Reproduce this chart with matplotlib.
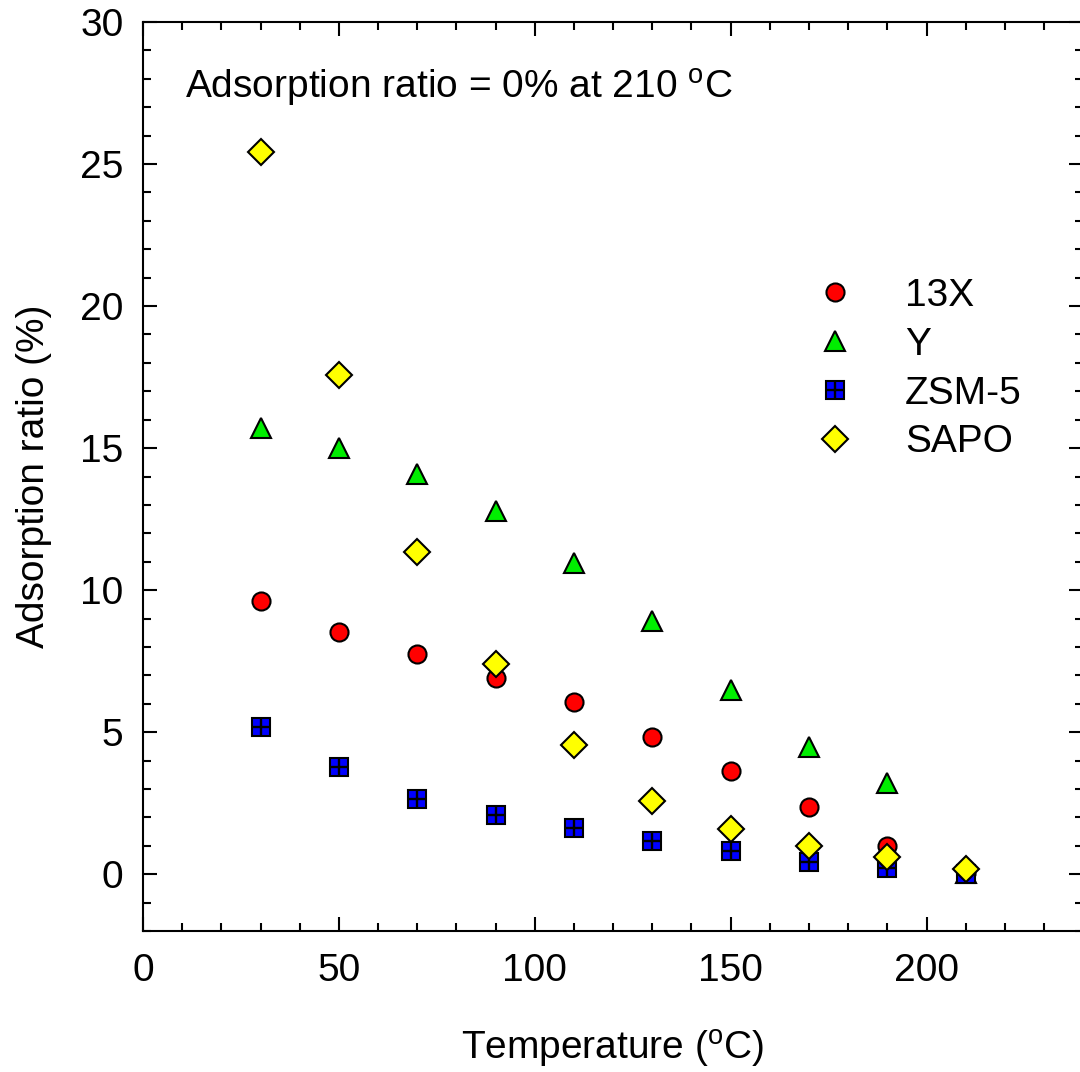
import matplotlib
matplotlib.use("Agg")
import matplotlib.pyplot as plt
from matplotlib.legend_handler import HandlerTuple
from matplotlib.ticker import MultipleLocator

temp = [30, 50, 70, 90, 110, 130, 150, 170, 190, 210]
x13 = [9.62, 8.53, 7.75, 6.92, 6.05, 4.82, 3.65, 2.38, 0.98, 0.05]
y_zeo = [15.72, 15.02, 14.1, 12.77, 10.97, 8.93, 6.47, 4.47, 3.2, 0.05]
zsm5 = [5.17, 3.76, 2.64, 2.08, 1.62, 1.16, 0.81, 0.44, 0.22, 0.0]
sapo = [25.42, 17.59, 11.33, 7.39, 4.54, 2.57, 1.59, 0.99, 0.61, 0.17]

plt.rcParams.update({"font.family": "Liberation Sans", "font.size": 28})
fig = plt.figure(figsize=(10.8, 10.72), dpi=100)
ax = fig.add_axes([0.1324, 0.1315, 0.8706, 0.848])

ew = 1.5
h13, = ax.plot(temp, x13, "o", ms=13, mfc="#ff0000", mec="black", mew=ew, ls="none", zorder=3)
hy, = ax.plot(temp, y_zeo, "^", ms=15, mfc="#00ee00", mec="black", mew=ew, ls="none", zorder=3)
hz, = ax.plot(temp, zsm5, "s", ms=13.5, mfc="#0000ff", mec="black", mew=ew, ls="none", zorder=4)
hzp, = ax.plot(temp, zsm5, "+", ms=13, mec="black", mew=1.7, ls="none", zorder=4)
hs, = ax.plot(temp, sapo, "D", ms=13.5, mfc="#ffff00", mec="black", mew=ew, ls="none", zorder=5)

ax.set_xlim(0, 240)
ax.set_ylim(-2, 30)
ax.xaxis.set_minor_locator(MultipleLocator(10))
ax.yaxis.set_major_locator(MultipleLocator(5))
ax.yaxis.set_minor_locator(MultipleLocator(1))
ax.set_xticks([0, 50, 100, 150, 200])
ax.tick_params(which="both", direction="in", top=True, right=True, width=1.5)
ax.tick_params(which="major", length=10, labelsize=28)
ax.tick_params(axis="x", which="major", pad=16)
ax.tick_params(axis="y", which="major", pad=14)
ax.tick_params(which="minor", length=6)
for s in ax.spines.values():
    s.set_linewidth(1.5)

ax.set_xlabel("Temperature ($\\mathregular{^{o}}$C)", fontsize=28, labelpad=28)
ax.set_ylabel("Adsorption ratio (%)", fontsize=28, labelpad=20)
ax.text(0.045, 0.927, "Adsorption ratio = 0% at 210 $\\mathregular{^{o}}$C",
        transform=ax.transAxes, ha="left", va="center", fontsize=28)

ax.legend([h13, hy, (hz, hzp), hs], ["13X", "Y", "ZSM-5", "SAPO"],
          handler_map={tuple: HandlerTuple(ndivide=1, pad=0)},
          loc="upper left", bbox_to_anchor=(0.674, 0.757), frameon=False,
          handlelength=1.2, handletextpad=1.2, labelspacing=0.33, fontsize=28)

fig.savefig("out.png", dpi=100, facecolor="white")
